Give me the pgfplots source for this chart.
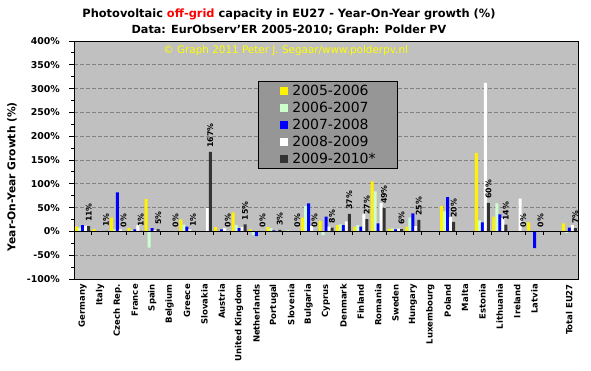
\documentclass[border=0pt]{standalone}
\usepackage{fontspec}
\setmainfont{DejaVu Sans}
\usepackage{pgfplots}
\pgfplotsset{compat=1.18}
\definecolor{plotbg}{RGB}{192,192,192}
\definecolor{legbg}{RGB}{150,150,150}
\definecolor{lgreen}{RGB}{204,255,204}
\definecolor{darkbar}{RGB}{51,51,51}
\definecolor{gridc}{RGB}{128,128,128}
\definecolor{wmark}{RGB}{255,255,0}
\begin{document}
\begin{tikzpicture}
\useasboundingbox (0,0) rectangle (591pt,371pt);
\node[font=\bfseries\fontsize{11.4}{13}\selectfont] at (289pt,357pt) {Photovoltaic \textcolor{red}{off-grid} capacity in EU27 - Year-On-Year growth (\%)};
\node[font=\bfseries\fontsize{11.2}{13}\selectfont] at (289pt,341pt) {Data: EurObserv'ER 2005-2010; Graph: Polder PV};
\begin{axis}[
 at={(74pt,92pt)}, anchor=south west,
 scale only axis, width=504pt, height=238pt,
 xmin=0.5, xmax=29.5, ymin=-100, ymax=400,
 ybar=0pt, bar width=3pt,
 axis background/.style={fill=plotbg},
 axis line style={line width=0.8pt},
 xtick={1,...,29},
 xticklabels={Germany,Italy,Czech Rep.,France,Spain,Belgium,Greece,Slovakia,Austria,United Kingdom,Netherlands,Portugal,Slovenia,Bulgaria,Cyprus,Denmark,Finland,Romania,Sweden,Hungary,Luxembourg,Poland,Malta,Estonia,Lithuania,Ireland,Latvia,{},Total EU27},
 x tick style={draw=none},
 xticklabel style={rotate=90, anchor=east, font=\bfseries\fontsize{8.5}{10}\selectfont, inner sep=0pt},
 ytick={-100,-50,...,400},
 yticklabels={-100\%,-50\%,0\%,50\%,100\%,150\%,200\%,250\%,300\%,350\%,400\%},
 ytick pos=left,
 minor y tick num=1,
 y tick style={black, line width=0.8pt},
 tick align=outside,
 major tick length=5pt, minor tick length=3pt,
 yticklabel style={font=\bfseries\fontsize{9.4}{11}\selectfont, inner sep=0pt, anchor=east, xshift=-9pt},
 ymajorgrids, grid style={gridc, dash pattern=on 4pt off 2pt, line width=0.6pt},
 ylabel={Year-On-Year Growth (\%)},
 ylabel style={font=\bfseries\fontsize{10.7}{13}\selectfont, at={(axis description cs:-0.123,0.43)}, anchor=center},
 legend style={at={(0.365,0.832)}, anchor=north west, fill=legbg, draw=black, line width=0.8pt,
   font=\fontsize{14}{16}\selectfont, inner xsep=22pt, inner ysep=4.5pt,
   nodes={inner sep=0pt, text height=9.5pt, text depth=1pt}, row sep=6.5pt},
 legend cell align=left,
 legend image code/.code={\fill[#1] (0pt,-4pt) rectangle (8pt,4pt); \path (12pt,0pt);},
]
\addplot[fill=yellow, draw=none] coordinates {(1,10)(2,5)(3,29)(4,7)(5,68)(6,0)(7,25)(8,0)(9,9)(10,40)(11,4)(12,9)(13,0)(14,29)(15,22)(16,13)(17,10)(18,105)(19,6)(20,10)(22,53)(24,165)(25,31)(26,0)(27,19)(29,17)};
\addplot[fill=lgreen, draw=none] coordinates {(1,8)(2,0)(3,4)(4,3)(5,-34)(7,14)(9,0)(10,13)(11,-8)(12,7)(13,2)(14,53)(15,-8)(16,15)(17,13)(18,84)(19,6)(20,29)(22,42)(24,23)(25,59)(29,-3)};
\addplot[fill=blue, draw=none] coordinates {(1,13)(3,82)(4,4)(5,7)(7,10)(9,4)(10,7)(11,-10)(12,2)(14,59)(15,31)(16,13)(17,10)(18,17)(19,4)(20,38)(22,72)(24,19)(25,36)(27,-35)(29,8)};
\addplot[fill=white, draw=none] coordinates {(1,12)(3,4)(4,13)(5,3)(7,4)(8,49)(9,7)(10,9)(12,1)(14,11)(15,10)(16,21)(17,37)(18,60)(19,6)(20,11)(22,30)(24,312)(25,28)(26,69)(29,13)};
\addplot[fill=darkbar, draw=none, point meta=explicit symbolic,
  nodes near coords={\pgfplotspointmeta\%},
  every node near coord/.append style={rotate=90, anchor=west, black, font=\bfseries\fontsize{7.8}{9}\selectfont, inner xsep=4pt, inner ysep=0pt}]
  coordinates {(1,11)[11](2,1)[1](3,0)[0](4,1)[1](5,5)[5](6,0)[0](7,1)[1](8,167)[167](9,0)[0](10,15)[15](11,0)[0](12,3)[3](13,0)[0](14,0)[0](15,8)[8](16,37)[37](17,26)[27](18,49)[49](19,5)[6](20,24)[25](22,20)[20](24,60)[60](25,14)[14](26,0)[0](27,0)[0](29,7)[7]};
\legend{2005-2006,2006-2007,2007-2008,2008-2009,2009-2010*}
\draw[black, line width=0.8pt] (axis cs:0.5,0) -- (axis cs:29.5,0);
\pgfplotsinvokeforeach{1.5,2.5,...,28.5}{\draw[black, line width=0.8pt] (axis cs:#1,0) -- ++(0pt,-4pt);}
\node[font=\fontsize{10.4}{12}\selectfont, text=wmark] at (rel axis cs:0.42,0.958) {© Graph 2011 Peter J. Segaar/www.polderpv.nl};
\end{axis}
\end{tikzpicture}
\end{document}
